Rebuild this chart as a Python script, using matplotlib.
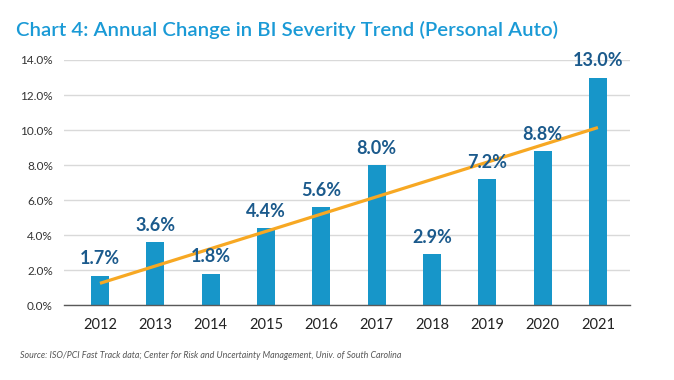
import matplotlib
matplotlib.use("Agg")
import matplotlib.pyplot as plt
import numpy as np

years = ["2012", "2013", "2014", "2015", "2016", "2017", "2018", "2019", "2020", "2021"]
values = [1.7, 3.6, 1.8, 4.4, 5.6, 8.0, 2.9, 7.2, 8.8, 13.0]
yticks = [0, 2, 4, 6, 8, 10, 12, 14]

plt.rcParams['font.family'] = ['Lato', 'DejaVu Sans']

fig = plt.figure(figsize=(6.74, 3.80), dpi=100)
ax = fig.add_axes([64/674, 1 - 305.3/380, (630-64)/674, (305.3-60)/380])

x = np.arange(len(years))
ax.bar(x, values, width=0.325, color="#1796c9", zorder=2)

coef = np.polyfit(x, values, 1)
ax.plot([x[0], x[-1]], np.polyval(coef, [x[0], x[-1]]), color="#f7a823", lw=2.3, zorder=3, solid_capstyle='butt')

for xi, v in zip(x, values):
    ax.annotate(f"{v:.1f}%", (xi, v), xytext=(0, 6), textcoords="offset points",
                ha="center", va="bottom", fontsize=13, fontweight="bold", color="#1b5a8c", zorder=4)

ax.set_xlim(-0.65, 9.58)
ax.set_ylim(0, 14)
ax.set_yticks(yticks)
ax.set_yticklabels([f"{t:.1f}%" for t in yticks], fontsize=8.5, color="#333333")
ax.set_xticks(x)
ax.set_xticklabels(years, fontsize=10.5, color="#222222")
ax.tick_params(axis='both', length=0)
ax.tick_params(axis='y', pad=8)
ax.tick_params(axis='x', pad=9)
ax.grid(axis='y', color="#d9d9d9", lw=1, zorder=0)
for s in ["top", "right", "left"]:
    ax.spines[s].set_visible(False)
ax.spines["bottom"].set_color("#595959")
ax.spines["bottom"].set_linewidth(1)

fig.text(16/674, 1 - 30/380, "Chart 4: Annual Change in BI Severity Trend (Personal Auto)",
         fontsize=14.7, color="#1a9ad6", fontweight="semibold", va="center", ha="left")
fig.text(20/674, 1 - 356/380,
         "Source: ISO/PCI Fast Track data; Center for Risk and Uncertainty Management, Univ. of South Carolina",
         fontsize=6.4, style="italic", color="#555555", va="center", ha="left")

fig.savefig("out.png", dpi=100)
